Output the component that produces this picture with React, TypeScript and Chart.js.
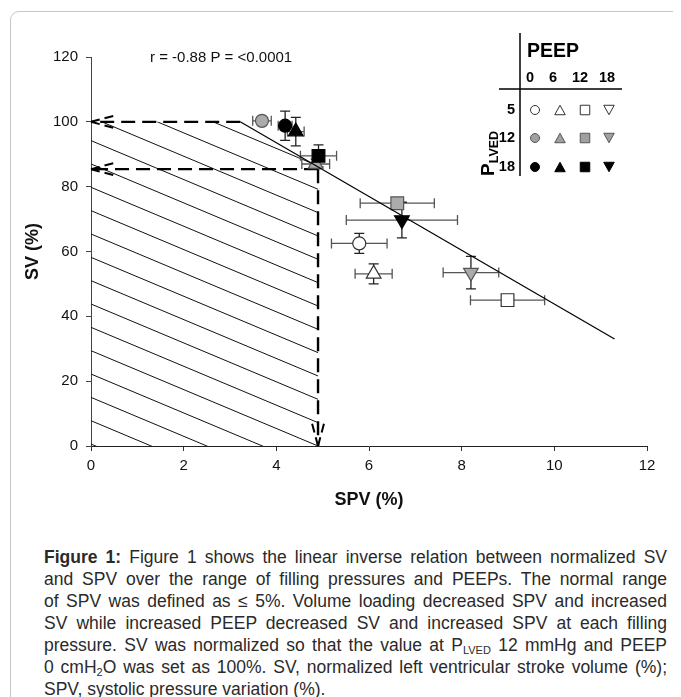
import React, { useEffect, useRef } from "react";
import { Chart, registerables } from "chart.js";

Chart.register(...registerables);

const FAMILY = "'Liberation Sans', Arial, Helvetica, sans-serif";

// ---- data ----
const xTicks = [0, 2, 4, 6, 8, 10, 12];
const yTicks = [0, 20, 40, 60, 80, 100, 120];
const pLvedLevels = [5, 12, 18];
const peepLevels = [0, 6, 12, 18];

// one entry per plotted mean (P_LVED, PEEP, SPV, SV, errors)
const pointPLVED = [12, 18, 18, 18, 12, 12, 18, 5, 5, 12, 5];
const pointPEEP = [0, 0, 6, 12, 6, 12, 18, 0, 6, 18, 12];
const spv = [3.69, 4.19, 4.42, 4.91, 4.85, 6.61, 6.71, 5.79, 6.1, 8.2, 8.99];
const sv = [100.3, 98.8, 97.0, 89.5, 87.0, 74.9, 69.7, 62.5, 53.1, 53.5, 45.0];
const spvErr = [0.2, 0.15, 0.18, 0.39, 0.3, 0.8, 1.2, 0.6, 0.4, 0.6, 0.8];
const svErr = [0.8, 4.5, 4.4, 3.4, 1.5, 1.5, 5.5, 3.1, 3.1, 5.0, 1.2];

// regression line end points
const regSpv = [3.22, 11.3];
const regSv = [100, 33];

// normal range marks
const normalSpv = 4.9;
const refSv = [100, 85.4];

const statText = "r = -0.88 P = <0.0001";

const captionLines = [
  "Figure 1 shows the linear inverse relation between normalized SV",
  "and SPV over the range of filling pressures and PEEPs. The normal range",
  "of SPV was defined as \u2264 5%. Volume loading decreased SPV and increased",
  "SV while increased PEEP decreased SV and increased SPV at each filling",
];

// ---- styles ----
const fillFor: Record<number, string> = { 5: "#ffffff", 12: "#ababab", 18: "#000000" };
const strokeFor: Record<number, string> = { 5: "#333333", 12: "#555555", 18: "#000000" };
const styleFor: Record<number, string> = { 0: "circle", 6: "triangle", 12: "rect", 18: "triangle" };
const rotFor: Record<number, number> = { 0: 0, 6: 0, 12: 0, 18: 180 };
const radFor: Record<number, number> = { 0: 6.5, 6: 8.5, 12: 9, 18: 8.5 };

const regAt = (v: number) =>
  regSv[0] + ((regSv[1] - regSv[0]) / (regSpv[1] - regSpv[0])) * (v - regSpv[0]);

function dashedArrow(ctx: CanvasRenderingContext2D, x1: number, y1: number, x2: number, y2: number) {
  ctx.save();
  ctx.strokeStyle = "#000";
  ctx.lineWidth = 2.4;
  ctx.setLineDash([14, 7]);
  ctx.beginPath();
  ctx.moveTo(x1, y1);
  ctx.lineTo(x2, y2);
  ctx.stroke();
  const ang = Math.atan2(y2 - y1, x2 - x1);
  const len = 25;
  const spread = 0.26;
  ctx.setLineDash([9, 5]);
  ctx.lineWidth = 2;
  for (const s of [-1, 1]) {
    ctx.beginPath();
    ctx.moveTo(x2, y2);
    ctx.lineTo(x2 - len * Math.cos(ang + s * spread), y2 - len * Math.sin(ang + s * spread));
    ctx.stroke();
  }
  ctx.restore();
}

function marker(
  ctx: CanvasRenderingContext2D,
  style: string,
  down: boolean,
  x: number,
  y: number,
  size: number,
  fill: string,
  stroke: string
) {
  ctx.save();
  ctx.fillStyle = fill;
  ctx.strokeStyle = stroke;
  ctx.lineWidth = 1;
  ctx.beginPath();
  if (style === "circle") {
    ctx.arc(x, y, size / 2, 0, Math.PI * 2);
  } else if (style === "rect") {
    ctx.rect(x - size / 2, y - size / 2, size, size);
  } else {
    const h = size * 0.9;
    const d = down ? -1 : 1;
    ctx.moveTo(x, y - (d * h) / 2);
    ctx.lineTo(x + size / 2, y + (d * h) / 2);
    ctx.lineTo(x - size / 2, y + (d * h) / 2);
    ctx.closePath();
  }
  ctx.fill();
  ctx.stroke();
  ctx.restore();
}

const overlayPlugin = {
  id: "overlay",
  beforeDatasetsDraw(chart: any) {
    const ctx: CanvasRenderingContext2D = chart.ctx;
    const xs = chart.scales.x;
    const ys = chart.scales.y;
    const px = (v: number) => xs.getPixelForValue(v);
    const py = (v: number) => ys.getPixelForValue(v);

    // hatched normal region
    ctx.save();
    ctx.beginPath();
    ctx.moveTo(px(0), py(0));
    ctx.lineTo(px(0), py(refSv[0]));
    ctx.lineTo(px(regSpv[0]), py(regSv[0]));
    ctx.lineTo(px(normalSpv), py(regAt(normalSpv)));
    ctx.lineTo(px(normalSpv), py(0));
    ctx.closePath();
    ctx.clip();
    ctx.strokeStyle = "#111";
    ctx.lineWidth = 1;
    const slope = 6.0; // SV per SPV of hatch lines
    const step = 7.2;
    const c0 = normalSpv * slope;
    for (let k = -6; k <= 16; k++) {
      const c = c0 + k * step;
      ctx.beginPath();
      ctx.moveTo(px(0), py(c));
      ctx.lineTo(px(normalSpv + 1), py(c - slope * (normalSpv + 1)));
      ctx.stroke();
    }
    ctx.restore();

    // dashed arrows
    dashedArrow(ctx, px(regSpv[0]), py(refSv[0]), px(0), py(refSv[0]));
    dashedArrow(ctx, px(normalSpv), py(refSv[1]), px(0), py(refSv[1]));
    dashedArrow(ctx, px(normalSpv), py(refSv[1]), px(normalSpv), py(0));

    // error bars
    ctx.save();
    ctx.lineWidth = 1.3;
    const cap = 5;
    for (let i = 0; i < spv.length; i++) {
      const cx = px(spv[i]);
      const cy = py(sv[i]);
      const xl = px(spv[i] - spvErr[i]);
      const xr = px(spv[i] + spvErr[i]);
      const yt = py(sv[i] + svErr[i]);
      const yb = py(sv[i] - svErr[i]);
      ctx.strokeStyle = "#555";
      ctx.beginPath();
      ctx.moveTo(xl, cy);
      ctx.lineTo(xr, cy);
      ctx.moveTo(xl, cy - cap);
      ctx.lineTo(xl, cy + cap);
      ctx.moveTo(xr, cy - cap);
      ctx.lineTo(xr, cy + cap);
      ctx.stroke();
      ctx.strokeStyle = "#222";
      ctx.beginPath();
      ctx.moveTo(cx, yt);
      ctx.lineTo(cx, yb);
      ctx.moveTo(cx - cap, yt);
      ctx.lineTo(cx + cap, yt);
      ctx.moveTo(cx - cap, yb);
      ctx.lineTo(cx + cap, yb);
      ctx.stroke();
    }
    ctx.restore();
  },
  afterDraw(chart: any) {
    const ctx: CanvasRenderingContext2D = chart.ctx;
    const area = chart.chartArea;
    ctx.save();
    // statistics text
    ctx.fillStyle = "#111";
    ctx.font = `15px ${FAMILY}`;
    ctx.textBaseline = "middle";
    ctx.textAlign = "left";
    ctx.fillText(statText, area.left + 59, area.top + 1);

    // legend table
    ctx.strokeStyle = "#000";
    ctx.lineWidth = 1.5;
    ctx.beginPath();
    ctx.moveTo(512, 25);
    ctx.lineTo(512, 168);
    ctx.moveTo(491, 81);
    ctx.lineTo(614, 81);
    ctx.stroke();

    ctx.fillStyle = "#000";
    ctx.font = `bold 19.5px ${FAMILY}`;
    ctx.textAlign = "left";
    ctx.fillText("PEEP", 519, 44);

    ctx.font = `bold 14.5px ${FAMILY}`;
    ctx.textAlign = "center";
    const colX = [522, 545, 572, 599];
    const symX = [527, 552, 577, 601];
    const rowY = [102, 130, 159];
    peepLevels.forEach((p, j) => ctx.fillText(String(p), colX[j], 70));
    ctx.textAlign = "right";
    pLvedLevels.forEach((p, i) => ctx.fillText(String(p), 507, rowY[i]));

    // rotated P_LVED
    ctx.save();
    ctx.translate(486, 168);
    ctx.rotate(-Math.PI / 2);
    ctx.textAlign = "left";
    ctx.textBaseline = "alphabetic";
    ctx.font = `bold 19px ${FAMILY}`;
    ctx.fillText("P", 0, 0);
    const w = ctx.measureText("P").width;
    ctx.font = `bold 12.5px ${FAMILY}`;
    ctx.fillText("LVED", w, 4);
    ctx.restore();

    pLvedLevels.forEach((pl, i) => {
      peepLevels.forEach((pe, j) => {
        const st = styleFor[pe];
        const size = st === "circle" ? 9 : st === "rect" ? 9.5 : 10.5;
        marker(ctx, st, rotFor[pe] === 180, symX[j], rowY[i], size, fillFor[pl] === "#ababab" ? "#a0a0a0" : fillFor[pl], strokeFor[pl]);
      });
    });
    ctx.restore();
  },
};

function buildDatasets() {
  const order: Record<number, number> = { 18: 1, 12: 2, 5: 3 };
  const sets: any[] = [
    {
      label: "regression",
      data: regSpv.map((v, i) => ({ x: v, y: regSv[i] })),
      showLine: true,
      borderColor: "#000",
      borderWidth: 1.2,
      pointRadius: 0,
      order: 0,
    },
  ];
  pLvedLevels.forEach((pl) => {
    const idx = pointPLVED.map((p, i) => (p === pl ? i : -1)).filter((i) => i >= 0);
    sets.push({
      label: `PLVED ${pl}`,
      data: idx.map((i) => ({ x: spv[i], y: sv[i] })),
      pointStyle: idx.map((i) => styleFor[pointPEEP[i]]),
      pointRotation: idx.map((i) => rotFor[pointPEEP[i]]),
      pointRadius: idx.map((i) => radFor[pointPEEP[i]]),
      pointBackgroundColor: fillFor[pl],
      pointBorderColor: strokeFor[pl],
      pointBorderWidth: 1.2,
      showLine: false,
      order: order[pl],
    });
  });
  return sets;
}

export default function App() {
  const ref = useRef<HTMLCanvasElement | null>(null);

  useEffect(() => {
    document.documentElement.style.overflow = "hidden";
    document.body.style.overflow = "hidden";
    if (!ref.current) return;
    const tickFont = { size: 15, family: FAMILY };
    const chart = new Chart(ref.current, {
      type: "scatter",
      data: { datasets: buildDatasets() },
      options: {
        responsive: false,
        animation: false,
        devicePixelRatio: 1,
        layout: { padding: { top: 49, right: 26, bottom: 0, left: 0 } },
        plugins: { legend: { display: false }, tooltip: { enabled: false } },
        events: [],
        scales: {
          x: {
            type: "linear",
            min: 0,
            max: 12,
            afterBuildTicks: (s: any) => {
              s.ticks = xTicks.map((v) => ({ value: v }));
            },
            afterFit: (s: any) => {
              s.height = 72;
            },
            ticks: { color: "#111", font: tickFont, padding: 6 },
            grid: { display: true, drawOnChartArea: false, drawTicks: true, tickLength: 5, color: "#333" },
            border: { display: true, color: "#222", width: 1 },
            title: {
              display: true,
              text: "SPV (%)",
              color: "#111",
              font: { size: 18, weight: "bold", family: FAMILY },
              padding: { top: 7, bottom: 7 },
            },
          },
          y: {
            type: "linear",
            min: 0,
            max: 120,
            afterBuildTicks: (s: any) => {
              s.ticks = yTicks.map((v) => ({ value: v }));
            },
            afterFit: (s: any) => {
              s.width = 83;
            },
            ticks: { color: "#111", font: tickFont, padding: 8 },
            grid: { display: true, drawOnChartArea: false, drawTicks: true, tickLength: 5, color: "#444" },
            border: { display: true, color: "#444", width: 1 },
            title: {
              display: true,
              text: "SV (%)",
              color: "#111",
              font: { size: 18, weight: "bold", family: FAMILY },
              padding: { top: 14, bottom: 14 },
            },
          },
        },
      },
      plugins: [overlayPlugin],
    } as any);
    return () => chart.destroy();
  }, []);

  const lineStyle: React.CSSProperties = {
    textAlign: "justify",
    textAlignLast: "justify" as any,
    whiteSpace: "nowrap",
    height: 22,
  };
  const sub: React.CSSProperties = { fontSize: 11, verticalAlign: "-3px", lineHeight: 0 };

  return (
    <div style={{ position: "relative", width: 665, height: 689, overflow: "hidden", fontFamily: FAMILY }}>
      <div
        style={{
          position: "absolute",
          left: 2,
          top: 3,
          width: 720,
          height: 720,
          border: "1px solid #c6c6c6",
          borderRadius: 9,
          boxSizing: "border-box",
        }}
      />
      <canvas ref={ref} width={665} height={510} style={{ position: "absolute", left: 0, top: 0, display: "block" }} />
      <div
        style={{
          position: "absolute",
          left: 36,
          top: 538,
          width: 623,
          fontSize: 17.5,
          lineHeight: "22px",
          color: "#2a2a2a",
          fontFamily: FAMILY,
        }}
      >
        <div style={lineStyle}>
          <b>Figure 1:</b> {captionLines[0]}
        </div>
        {captionLines.slice(1).map((t, i) => (
          <div key={i} style={lineStyle}>
            {t}
          </div>
        ))}
        <div style={lineStyle}>
          pressure. SV was normalized so that the value at P<span style={sub}>LVED</span> 12 mmHg and PEEP
        </div>
        <div style={lineStyle}>
          0 cmH<span style={sub}>2</span>O was set as 100%. SV, normalized left ventricular stroke volume (%);
        </div>
        <div style={{ whiteSpace: "nowrap", height: 22 }}>SPV, systolic pressure variation (%).</div>
      </div>
    </div>
  );
}
